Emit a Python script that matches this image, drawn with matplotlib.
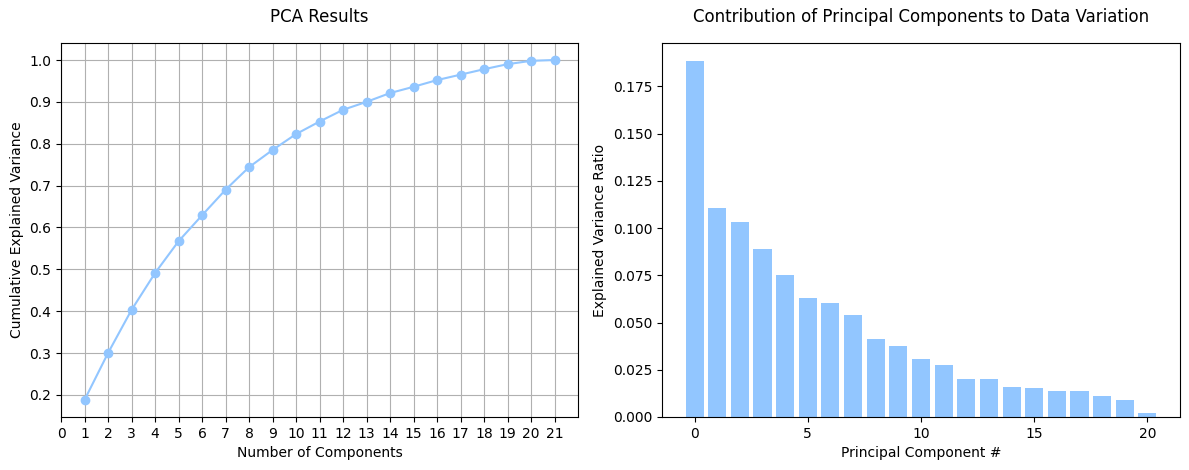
import matplotlib
matplotlib.use("Agg")
import matplotlib.pyplot as plt
import numpy as np

components = list(range(1, 22))
cumulative = [0.188, 0.300, 0.403, 0.491, 0.567, 0.629, 0.690, 0.744, 0.785, 0.823,
              0.853, 0.881, 0.900, 0.921, 0.936, 0.952, 0.965, 0.978, 0.990, 0.998, 1.000]
pc_index = list(range(0, 21))
ratios = [0.1886, 0.1107, 0.1033, 0.0890, 0.0752, 0.0630, 0.0604, 0.0540, 0.0413, 0.0376,
          0.0307, 0.0275, 0.0201, 0.0201, 0.0159, 0.0154, 0.0138, 0.0138, 0.0111, 0.0090, 0.0021]
xticks_left = list(range(0, 22))

color = '#92C6FF'

fig = plt.figure(figsize=(11.89, 4.7), dpi=100)
ax1 = fig.add_axes([61/1189, 1-417/470, (578-61)/1189, (417-43)/470])
ax2 = fig.add_axes([662/1189, 1-417/470, (1180-662)/1189, (417-43)/470])

ax1.plot(components, cumulative, marker='o', color=color)
ax1.set_xticks(xticks_left)
ax1.grid(True)
ax1.set_xlabel('Number of Components')
ax1.set_ylabel('Cumulative Explained Variance')
ax1.set_title('PCA Results', pad=15)

ax2.bar(pc_index, ratios, color=color)
ax2.set_xlabel('Principal Component #')
ax2.set_ylabel('Explained Variance Ratio')
ax2.set_title('Contribution of Principal Components to Data Variation', pad=15)

fig.savefig('out.png', dpi=100)
